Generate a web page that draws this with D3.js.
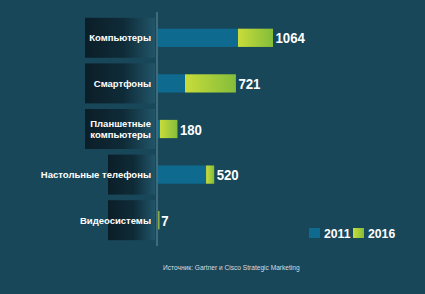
<!DOCTYPE html>
<html>
<head>
<meta charset="utf-8">
<script src="https://cdn.jsdelivr.net/npm/d3@7"></script>
<style>
  html, body { margin: 0; padding: 0; background: #18475a; }
  svg { display: block; font-family: "Liberation Sans", Arial, sans-serif; }
</style>
</head>
<body>
<svg id="chart"></svg>
<script>
// chart data
const categories = ["Компьютеры", "Смартфоны", "Планшетные компьютеры", "Настольные телефоны", "Видеосистемы"];
const labelLines = [["Компьютеры"], ["Смартфоны"], ["Планшетные", "компьютеры"], ["Настольные телефоны"], ["Видеосистемы"]];
const values2011 = [740, 250, 18, 445, 3];
const values2016 = [1064, 721, 180, 520, 7];
const years = ["2011", "2016"];
const source = "Источник: Gartner и Cisco Strategic Marketing";

const width = 425, height = 294;
const axisX = 157;

const svg = d3.select('#chart')
    .attr('width', width)
    .attr('height', height);

svg.append('rect').attr('width', width).attr('height', height).attr('fill', '#18475a');

// gradients
let defs = svg.append('defs');
let green = defs.append('linearGradient').attr('id', 'green').attr('x1', 0).attr('x2', 1).attr('y1', 0).attr('y2', 0);
green.append('stop').attr('offset', '0%').attr('stop-color', '#c8dc3a');
green.append('stop').attr('offset', '100%').attr('stop-color', '#84bd3a');
let box = defs.append('linearGradient').attr('id', 'box').attr('x1', 0).attr('x2', 1).attr('y1', 0).attr('y2', 0);
box.append('stop').attr('offset', '0%').attr('stop-color', '#0b1e28');
box.append('stop').attr('offset', '55%').attr('stop-color', '#0f2b38');
box.append('stop').attr('offset', '100%').attr('stop-color', '#215569');

// scales
let x = d3.scaleLinear().domain([0, 1064]).range([axisX + 1, 273]);
let y = d3.scaleBand().domain(categories).range([15, 243]).paddingInner(0.6).paddingOuter(0.3);
let color = d3.scaleOrdinal().domain(years).range(['#0e6a8e', 'url(#green)']);

const rows = categories.map((c, i) => ({
    cat: c, lines: labelLines[i], v11: values2011[i], v16: values2016[i],
    boxLeft: i < 3 ? 85 : 108
}));

// label boxes
svg.append('g').selectAll('rect')
    .data(rows).enter().append('rect')
    .attr('x', d => d.boxLeft)
    .attr('y', d => y(d.cat) + y.bandwidth() / 2 - 20)
    .attr('width', d => axisX - 2 - d.boxLeft)
    .attr('height', 40)
    .attr('fill', 'url(#box)');

// category labels
let labels = svg.append('g').selectAll('text')
    .data(rows).enter().append('text')
    .attr('text-anchor', 'end')
    .attr('fill', '#ffffff')
    .attr('font-weight', 'bold')
    .attr('font-size', 9.5)
    .attr('x', 151)
    .attr('y', d => y(d.cat) + y.bandwidth() / 2 + 3.5 - (d.lines.length - 1) * 5.5);
labels.selectAll('tspan')
    .data(d => d.lines).enter().append('tspan')
    .attr('x', 151)
    .attr('dy', (d, i) => i ? 11 : 0)
    .text(d => d);

// axis line
svg.append('line')
    .attr('x1', axisX).attr('x2', axisX)
    .attr('y1', 12).attr('y2', 246)
    .attr('stroke', '#4f7687').attr('stroke-width', 1.5);

// bars: 2011 in blue, growth up to 2016 in green
let bars = svg.append('g');
bars.selectAll('rect.y2011')
    .data(rows).enter().append('rect')
    .attr('class', 'y2011')
    .attr('x', x(0))
    .attr('y', d => y(d.cat))
    .attr('width', d => x(d.v11) - x(0))
    .attr('height', y.bandwidth())
    .attr('fill', color('2011'));
bars.selectAll('rect.y2016')
    .data(rows).enter().append('rect')
    .attr('class', 'y2016')
    .attr('x', d => x(d.v11))
    .attr('y', d => y(d.cat))
    .attr('width', d => Math.max(x(d.v16) - x(d.v11), 1.2))
    .attr('height', y.bandwidth())
    .attr('fill', color('2016'));

// value labels (slightly condensed like the original)
svg.append('g').selectAll('text')
    .data(rows).enter().append('text')
    .attr('transform', d => `translate(${x(d.v16) + 2.5},${y(d.cat) + y.bandwidth() / 2 + 5.5}) scale(0.88,1)`)
    .attr('fill', '#ffffff')
    .attr('font-weight', 'bold')
    .attr('font-size', 15)
    .text(d => d.v16);

// legend
let legend = svg.append('g');
let legX = [309, 353];
years.forEach((yr, i) => {
    legend.append('rect')
        .attr('x', legX[i]).attr('y', 228)
        .attr('width', 11).attr('height', 10)
        .attr('fill', color(yr));
    legend.append('text')
        .attr('transform', `translate(${legX[i] + 15},238) scale(0.94,1)`)
        .attr('fill', '#ffffff')
        .attr('font-weight', 'bold')
        .attr('font-size', 13)
        .text(yr);
});

// source note
svg.append('text')
    .attr('x', 163).attr('y', 270)
    .attr('fill', '#d5dde1')
    .attr('font-size', 6.6)
    .text(source);
</script>
</body>
</html>
